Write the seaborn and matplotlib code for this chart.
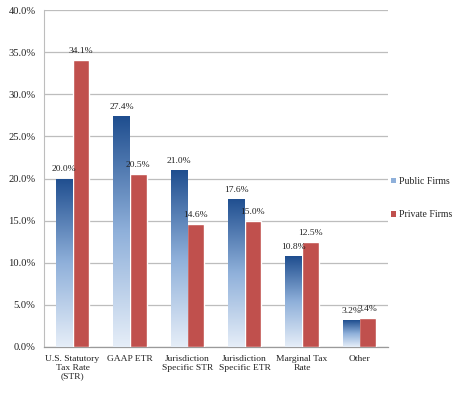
import numpy as np
import pandas as pd
import matplotlib
matplotlib.use("Agg")
import matplotlib.pyplot as plt
from matplotlib.colors import LinearSegmentedColormap
from matplotlib.patches import Patch
import seaborn as sns

categories = ["U.S. Statutory\nTax Rate\n(STR)", "GAAP ETR", "Jurisdiction\nSpecific STR",
              "Jurisdiction\nSpecific ETR", "Marginal Tax\nRate", "Other"]
public_firms = [20.0, 27.4, 21.0, 17.6, 10.8, 3.2]
private_firms = [34.1, 20.5, 14.6, 15.0, 12.5, 3.4]
series_names = ["Public Firms", "Private Firms"]
y_ticks = [0, 5, 10, 15, 20, 25, 30, 35, 40]

df = pd.DataFrame({
    "category": categories * 2,
    "value": public_firms + private_firms,
    "firm": [series_names[0]] * len(categories) + [series_names[1]] * len(categories),
})

sns.set_style("white")
plt.rcParams["font.family"] = ["Liberation Serif", "DejaVu Serif"]

red = "#C0504D"
blue_top = "#1F4E8F"
blue_bottom = "#E6EEF8"
blue_cmap = LinearSegmentedColormap.from_list("pub", [blue_bottom, "#8FB0DA", blue_top])

fig = plt.figure(figsize=(4.57, 4.03), dpi=100)
ax = fig.add_axes([0.096, 0.139, 0.753, 0.836])

sns.barplot(data=df, x="category", y="value", hue="firm", order=categories,
            hue_order=series_names, palette=[blue_top, red], width=0.58,
            saturation=1, legend=False, ax=ax, zorder=3)

ax.set_xlim(-0.5, len(categories) - 0.5)
ax.set_ylim(0, 40)

# Gradient fill for the public-firm bars
grad = np.linspace(0, 1, 256).reshape(-1, 1)
pub_bars = ax.containers[0]
for bar in pub_bars:
    x0, w, h = bar.get_x(), bar.get_width(), bar.get_height()
    bar.set_facecolor("none")
    bar.set_edgecolor("none")
    im = ax.imshow(grad, extent=[x0, x0 + w, 0, h], origin="lower", aspect="auto",
                   cmap=blue_cmap, zorder=3)
    im.set_clip_path(bar)
ax.set_xlim(-0.5, len(categories) - 0.5)
ax.set_ylim(0, 40)

# Value labels above each bar
for container, vals in zip(ax.containers, [public_firms, private_firms]):
    for bar, v in zip(container, vals):
        ax.text(bar.get_x() + bar.get_width() / 2, v + 0.6, f"{v:.1f}%",
                ha="center", va="bottom", fontsize=6.8, color="#222222", zorder=5)

ax.set_yticks(y_ticks)
ax.set_yticklabels([f"{t:.1f}%" for t in y_ticks])
ax.yaxis.grid(True, color="#BDBDBD", linewidth=0.9, zorder=0)
ax.set_axisbelow(True)
ax.tick_params(axis="y", length=0, labelsize=7.6, pad=6, labelcolor="#222222")
ax.tick_params(axis="x", length=0, labelsize=6.8, pad=6, labelcolor="#222222")
ax.set_xticks(range(len(categories)))
ax.set_xticklabels(categories, linespacing=1.1)
ax.set_xticks(np.arange(-0.5, len(categories), 1.0), minor=True)
ax.tick_params(axis="x", which="minor", length=3, color="#9A9A9A", width=0.8)
ax.set_xlabel("")
ax.set_ylabel("")

for side in ["top", "right"]:
    ax.spines[side].set_visible(False)
ax.spines["left"].set_color("#BDBDBD")
ax.spines["left"].set_linewidth(0.8)
ax.spines["bottom"].set_color("#9A9A9A")
ax.spines["bottom"].set_linewidth(0.9)

handles = [Patch(facecolor="#8FB0DA", edgecolor="none"), Patch(facecolor=red, edgecolor="none")]
fig.legend(handles, series_names, loc="center left", bbox_to_anchor=(0.852, 0.508),
           frameon=False, fontsize=7.0, handlelength=0.5, handleheight=0.5,
           handletextpad=0.25, labelspacing=2.5, borderpad=0.2, borderaxespad=0.0)

fig.savefig("out.png", dpi=100)
